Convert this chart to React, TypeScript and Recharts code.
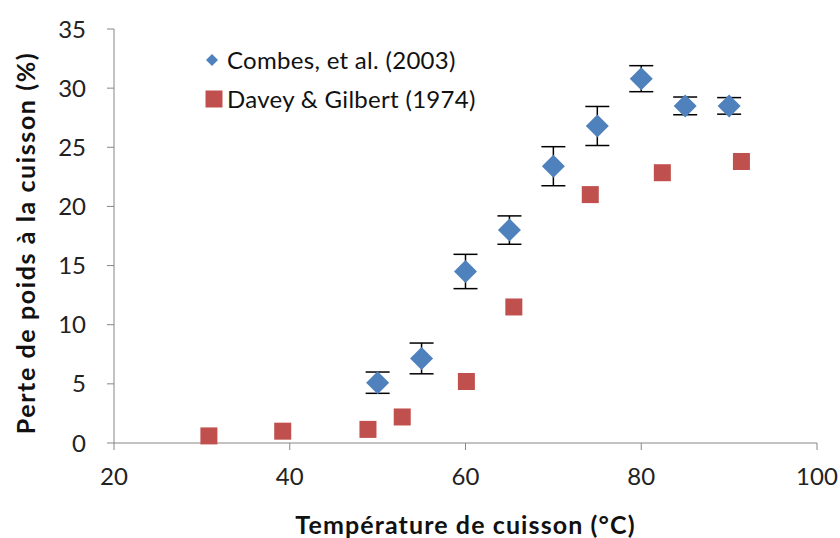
import React from 'react';
import { ScatterChart, Scatter, XAxis, YAxis, ErrorBar, Legend } from 'recharts';

// Combes, et al. (2003)
const combesTemp = [50, 55, 60, 65, 70, 75, 80, 85, 90];
const combesLoss = [5.1, 7.15, 14.5, 18.0, 23.4, 26.8, 30.8, 28.5, 28.5];
const combesErr = [0.9, 1.3, 1.45, 1.2, 1.65, 1.65, 1.1, 0.75, 0.7];

// Davey & Gilbert (1974)
const daveyTemp = [30.8, 39.2, 48.9, 52.8, 60.1, 65.5, 74.2, 82.4, 91.4];
const daveyLoss = [0.6, 1.0, 1.15, 2.2, 5.2, 11.5, 21.0, 22.85, 23.8];

const xTicks = [20, 40, 60, 80, 100];
const yTicks = [0, 5, 10, 15, 20, 25, 30, 35];

const combesName = 'Combes, et al. (2003)';
const daveyName = 'Davey & Gilbert (1974)';

const combesData = combesTemp.map((t, i) => ({ t, loss: combesLoss[i], err: combesErr[i] }));
const daveyData = daveyTemp.map((t, i) => ({ t, loss: daveyLoss[i] }));

const BLUE = '#4F81BD';
const RED = '#C0504D';
const FONT = 'Lato, "Open Sans", sans-serif';

const Diamond = (props: any) => {
  const { cx, cy } = props;
  const r = 11.5;
  return <polygon points={`${cx},${cy - r} ${cx + r},${cy} ${cx},${cy + r} ${cx - r},${cy}`} fill={BLUE} />;
};

const Square = (props: any) => {
  const { cx, cy } = props;
  const s = 17;
  return <rect x={cx - s / 2} y={cy - s / 2} width={s} height={s} fill={RED} />;
};

const Nothing = () => <g />;

const YTitle = (props: any) => {
  const vb = props.viewBox || { x: 0, y: 0, width: 0, height: 0 };
  const x = vb.x + 25;
  const y = vb.y + vb.height / 2 + 7;
  return (
    <text
      x={x}
      y={y}
      transform={`rotate(-90 ${x} ${y})`}
      textAnchor="middle"
      dominantBaseline="central"
      fill="#111"
      fontSize={25}
      fontWeight={700}
      fontFamily={FONT}
      letterSpacing={1.6}
    >
      Perte de poids à la cuisson (%)
    </text>
  );
};

const LegendBox = (props: any) => {
  const items = [combesName, daveyName]
    .map((n) => (props.payload || []).find((it: any) => it.value === n))
    .filter(Boolean);
  return (
    <div style={{ fontFamily: FONT, fontSize: 24, color: '#111', letterSpacing: 0.3, textAlign: 'left' }}>
      {items.map((it: any) => (
        <div key={it.value} style={{ display: 'flex', alignItems: 'center', height: 39, whiteSpace: 'nowrap' }}>
          <svg width={25} height={20} style={{ flex: 'none' }}>
            {it.value === combesName ? (
              <polygon points="10,4 16,10 10,16 4,10" fill={BLUE} />
            ) : (
              <rect x={3.5} y={1.5} width={17} height={17} fill={RED} />
            )}
          </svg>
          <span>{it.value}</span>
        </div>
      ))}
    </div>
  );
};

export default function App() {
  return (
    <div style={{ position: 'absolute', left: 0, top: 0, background: '#fff' }}>
      <ScatterChart width={840} height={538} margin={{ top: 29, right: 23, bottom: 0, left: 0 }}>
        <XAxis
          type="number"
          dataKey="t"
          domain={[20, 100]}
          ticks={xTicks}
          height={95}
          stroke="#868686"
          tickSize={7}
          tickMargin={18}
          tick={{ fill: '#222', fontSize: 24, fontFamily: FONT }}
          label={{
            value: 'Température de cuisson (°C)',
            position: 'insideBottom',
            offset: 4,
            style: { fill: '#111', fontSize: 25, fontWeight: 700, fontFamily: FONT, letterSpacing: 1.1 },
          }}
        />
        <YAxis
          type="number"
          dataKey="loss"
          domain={[0, 35]}
          ticks={yTicks}
          width={114}
          stroke="#868686"
          tickSize={7}
          tickMargin={21}
          tick={{ fill: '#222', fontSize: 24, fontFamily: FONT }}
          label={<YTitle />}
        />
        <Legend
          content={<LegendBox />}
          layout="vertical"
          align="center"
          verticalAlign="middle"
          wrapperStyle={{ position: 'absolute', left: 202, top: 40, width: 320 }}
        />
        <Scatter
          name="err"
          legendType="none"
          data={combesData}
          fill={BLUE}
          shape={<Nothing />}
          isAnimationActive={false}
        >
          <ErrorBar dataKey="err" direction="y" width={12} stroke="#000" strokeWidth={1.5} zIndex={-100} />
        </Scatter>
        <Scatter name={combesName} data={combesData} fill={BLUE} shape={<Diamond />} isAnimationActive={false} />
        <Scatter name={daveyName} data={daveyData} fill={RED} shape={<Square />} isAnimationActive={false} />
      </ScatterChart>
    </div>
  );
}
